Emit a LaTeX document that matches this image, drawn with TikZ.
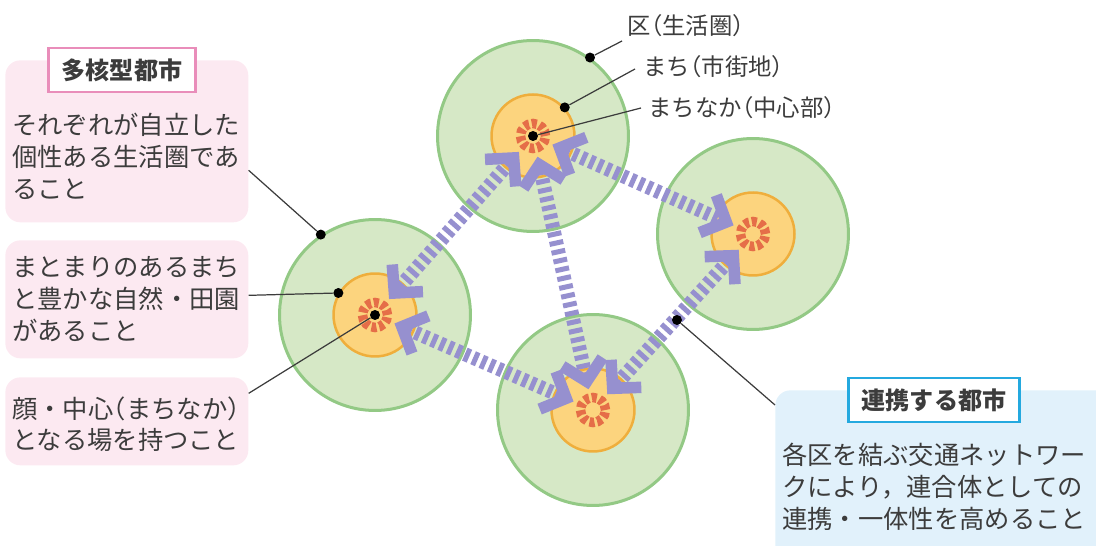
\documentclass[tikz,border=0pt]{standalone}
\usepackage{fontspec}
\setmainfont{Noto Sans CJK JP}
\newfontfamily\halfw{Noto Sans CJK JP}[CharacterWidth=AlternateHalf]
\newcommand{\lpar}{{\halfw （}}
\newcommand{\rpar}{{\halfw ）}}
\usetikzlibrary{arrows.meta}

\definecolor{zonefill}{HTML}{D6E8C6}
\definecolor{zoneline}{HTML}{93C985}
\definecolor{townfill}{HTML}{FCD47E}
\definecolor{townline}{HTML}{EFAE3C}
\definecolor{corered}{HTML}{E56E48}
\definecolor{linkblue}{HTML}{9690CF}
\definecolor{pinkfill}{HTML}{FCE9F1}
\definecolor{pinkline}{HTML}{E98DBA}
\definecolor{bluefill}{HTML}{E1F1FB}
\definecolor{blueline}{HTML}{24A9DF}
\definecolor{ink}{HTML}{3C3C3C}

\begin{document}
\begin{tikzpicture}[x=0.02cm, y=-0.02cm,
  chev/.tip={Straight Barb[length=0.4cm, width=0.82cm, line width'=0.23cm]},
  zone/.style={circle, inner sep=0pt, minimum size=3.82cm, fill=zonefill, draw=zoneline, line width=0.06cm},
  town/.style={circle, inner sep=0pt, minimum size=1.66cm, fill=townfill, draw=townline, line width=0.05cm},
  core/.style={circle, inner sep=0pt, minimum size=0.5cm, draw=corered, line width=0.19cm, dash pattern=on 0.1cm off 0.0571cm},
  dot/.style={circle, inner sep=0pt, minimum size=0.2cm, fill=black},
  link/.style={draw=linkblue, line width=0.28cm, dash pattern=on 0.1cm off 0.08cm, shorten >=0.08cm, shorten <=0.08cm, chev-chev},
  lead/.style={draw=ink, line width=0.7pt},
  card/.style={rounded corners=0.3cm, inner sep=0pt, anchor=north west},
  heading/.style={fill=white, line width=0.05cm, inner xsep=0.27cm, minimum height=0.88cm, font=\bfseries\fontsize{13.7}{16}\selectfont, text=ink},
  body/.style={align=left, inner sep=0pt, anchor=north west, font=\fontsize{14.4}{18.2}\selectfont, text=ink},
  tag/.style={inner sep=0pt, anchor=west, font=\fontsize{13.3}{16}\selectfont, text=ink}]
  \useasboundingbox (0,0) rectangle (1096,546);

  % explanation cards
  \node[card, fill=pinkfill, minimum width=4.86cm, minimum height=3.24cm] (c1) at (5,60) {};
  \node[card, fill=pinkfill, minimum width=4.86cm, minimum height=2.36cm] (c2) at (5,240) {};
  \node[card, fill=pinkfill, minimum width=4.86cm, minimum height=1.76cm] (c3) at (5,377) {};
  \node[card, fill=bluefill, minimum width=6.8cm, minimum height=3.5cm] (c4) at (775,390) {};
  \node[heading, draw=pinkline] (t1) at (122,70) {多核型都市};
  \node[heading, draw=blueline] (t4) at (934,400) {連携する都市};
  \node[body] (b1) at (12,113) {それぞれが自立した\\個性ある生活圏であ\\ること};
  \node[body] (b2) at (12,256) {まとまりのあるまち\\と豊かな自然・田園\\があること};
  \node[body] (b3) at (12,396) {顔・中心\lpar まちなか\rpar\\となる場を持つこと};
  \node[body] (b4) at (782,443) {各区を結ぶ交通ネットワー\\クにより，連合体としての\\連携・一体性を高めること};

  % districts
  \node[zone] (n) at (533,136) {};
  \node[zone] (w) at (375,315) {};
  \node[zone] (s) at (593,410) {};
  \node[zone] (e) at (753,234) {};
  \node[town] (nt) at (n) {};
  \node[town] (wt) at (w) {};
  \node[town] (st) at (s) {};
  \node[town] (et) at (e) {};
  \node[core] (nc) at (n) {};
  \node[core] (wc) at (w) {};
  \node[core] (sc) at (s) {};
  \node[core] (ec) at (e) {};

  % network
  \path[link]
    (nc) edge (wc)
    (nc) edge (sc)
    (nc) edge (ec)
    (wc) edge (sc)
    (sc) edge (ec);

  % pointers
  \node[dot] (d1) at (n.54) {};
  \node[dot] (d2) at (nt.42) {};
  \node[dot] (d3) at (nc) {};
  \node[dot] (d4) at (w.124) {};
  \node[dot] (d5) at (wt.149) {};
  \node[dot] (d6) at (wc) {};
  \node[dot] (d7) at (677,320) {};
  \node[tag] (l1) at (627,26) {区\lpar 生活圏\rpar};
  \node[tag] (l2) at (643,67) {まち\lpar 市街地\rpar};
  \node[tag] (l3) at (648,108) {まちなか\lpar 中心部\rpar};
  \coordinate (q1) at (622,41);
  \coordinate (q2) at (635,69);
  \coordinate (q3) at (641,108);
  \draw[lead] (q1) -- (d1);
  \draw[lead] (q2) -- (d2);
  \draw[lead] (q3) -- (d3);
  \draw[lead] ([yshift=-0.58cm]c1.east) -- (d4);
  \draw[lead] ([yshift=0.08cm]c2.east) -- (d5);
  \draw[lead] ([yshift=0.56cm]c3.east) -- (d6);
  \draw[lead] ([yshift=-0.3cm]c4.north west) -- (d7);
\end{tikzpicture}
\end{document}
